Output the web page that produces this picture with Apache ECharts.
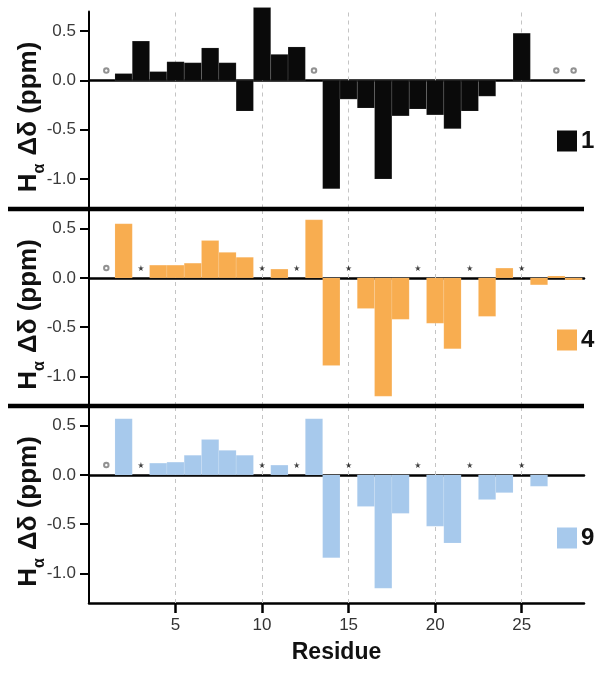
<!DOCTYPE html>
<html><head><meta charset="utf-8">
<script src="https://cdn.jsdelivr.net/npm/echarts@6/dist/echarts.min.js"></script>
<style>html,body{margin:0;padding:0;background:#fff}#c{width:604px;height:678px}</style>
</head><body><div id="c"></div>
<script>
// ---- data ----
const residues = [1,2,3,4,5,6,7,8,9,10,11,12,13,14,15,16,17,18,19,20,21,22,23,24,25,26,27,28];
const values1 = [null,0.07,0.40,0.09,0.19,0.18,0.33,0.18,-0.31,0.74,0.265,0.34,null,-1.10,-0.19,-0.28,-1.00,-0.36,-0.29,-0.35,-0.49,-0.31,-0.16,null,0.48,null,null,null];
const values4 = [null,0.55,null,0.13,0.13,0.15,0.38,0.26,0.21,null,0.09,null,0.59,-0.89,null,-0.31,-1.20,-0.42,null,-0.46,-0.72,null,-0.39,0.10,null,-0.07,0.02,-0.02];
const values9 = [null,0.57,null,0.12,0.13,0.20,0.36,0.25,0.20,null,0.10,null,0.57,-0.84,null,-0.32,-1.15,-0.39,null,-0.52,-0.69,null,-0.25,-0.18,null,-0.115,null,null];
const circles1 = [1,13,27,28];
const stars1 = [];
const circles4 = [1];
const stars4 = [3,10,12,15,19,22,25];
const circles9 = [1];
const stars9 = [3,10,12,15,19,22,25];
const markerLevel = 0.1;
const compoundNames = ['1','4','9'];
const xTicks = [5,10,15,20,25];
const yTicks = [-1.0,-0.5,0.0,0.5];
const xAxisTitle = 'Residue';
const yAxisTitle = 'H{a|α} Δδ (ppm)';

// ---- styles ----
const colors = ['#0a0a0a','#f8ad50','#a7c9ec'];
const FONT = '"Liberation Sans", Arial, Helvetica, sans-serif';
const gridTops = [11.5, 209, 406];
const gridH = 197;
const legendTops = [129, 328, 526];
const panels = [
  {vals: values1, circles: circles1, stars: stars1},
  {vals: values4, circles: circles4, stars: stars4},
  {vals: values9, circles: circles9, stars: stars9}
];
const starPath = 'path://M50,0 L61,35 L98,35 L68,57 L79,91 L50,70 L21,91 L32,57 L2,35 L39,35 Z';

const grid = [], xAxis = [], yAxis = [], series = [], legend = [];
panels.forEach((p, i) => {
  grid.push({left: 89, width: 495, top: gridTops[i], height: gridH, containLabel: false, outerBoundsMode: 'none'});
  const last = i === panels.length - 1;
  xAxis.push({
    type: 'value', gridIndex: i, min: 0, max: 28.6, interval: 5,
    position: 'bottom',
    axisLine: {show: true, onZero: !last, lineStyle: {color: '#000', width: 2.5}},
    axisTick: {show: last, length: 10, customValues: xTicks, lineStyle: {color: '#000', width: 2.5}},
    axisLabel: {show: last, customValues: xTicks, margin: 14, fontSize: 17, color: '#333', fontFamily: FONT},
    splitLine: {show: false},
    name: last ? xAxisTitle : '', nameLocation: 'middle', nameGap: 38, nameMoveOverlap: false,
    nameTextStyle: {fontSize: 23, fontWeight: 'bold', color: '#111', fontFamily: FONT}
  });
  yAxis.push({
    type: 'value', gridIndex: i, min: -1.3, max: 0.7,
    axisLine: {show: true, onZero: false, lineStyle: {color: '#000', width: 2}},
    axisTick: {show: true, length: 9, customValues: yTicks, lineStyle: {color: '#000', width: 2}},
    axisLabel: {customValues: yTicks, formatter: v => v.toFixed(1), margin: 13, fontSize: 17, color: '#3a3a3a', fontFamily: FONT},
    splitLine: {show: false},
    name: yAxisTitle, nameLocation: 'middle', nameGap: 47, nameRotate: 90, nameMoveOverlap: false,
    nameTextStyle: {fontSize: 26, fontWeight: 'bold', color: '#111', fontFamily: FONT, padding: [0, 14, 0, 0],
      rich: {a: {fontSize: 16, fontWeight: 'bold', color: '#111', fontFamily: FONT, verticalAlign: 'bottom', padding: [0, 1, -6, 0]}}}
  });
  const barData = [];
  residues.forEach((r, k) => { if (p.vals[k] !== null) barData.push([r, p.vals[k]]); });
  series.push({
    type: 'custom', name: compoundNames[i], xAxisIndex: i, yAxisIndex: i,
    itemStyle: {color: colors[i]}, encode: {x: 0, y: 1},
    renderItem: (params, api) => {
      const x = api.value(0), y = api.value(1);
      const a = api.coord([x - 0.5, 0]);
      const b = api.coord([x + 0.5, y]);
      return {type: 'rect',
        shape: {x: a[0], y: Math.min(a[1], b[1]), width: b[0] - a[0], height: Math.abs(b[1] - a[1])},
        style: {fill: api.visual('color'), stroke: 'rgba(255,255,255,0.18)', lineWidth: 0.6}};
    },
    data: barData, z: 10
  });
  series.push({
    type: 'scatter', name: 'circ' + i, xAxisIndex: i, yAxisIndex: i,
    symbol: 'emptyCircle', symbolSize: 4.5,
    itemStyle: {color: '#777', borderWidth: 1},
    data: p.circles.map(r => [r, markerLevel]), z: 11, silent: true
  });
  series.push({
    type: 'scatter', name: 'star' + i, xAxisIndex: i, yAxisIndex: i,
    symbol: starPath, symbolSize: 6,
    itemStyle: {color: '#111'},
    data: p.stars.map(r => [r, markerLevel]), z: 11, silent: true
  });
  series.push({
    type: 'scatter', name: 'grid' + i, xAxisIndex: i, yAxisIndex: i,
    data: [], z: 1, silent: true,
    markLine: {
      silent: true, symbol: 'none', label: {show: false}, z: 1,
      lineStyle: {type: [4, 4], color: '#c4c4c4', width: 1},
      emphasis: {disabled: true},
      data: xTicks.map(v => ({xAxis: v}))
    }
  });
  legend.push({
    data: [{name: compoundNames[i], icon: 'rect'}], left: 557, top: legendTops[i],
    itemWidth: 20, itemHeight: 21, selectedMode: false, padding: 0,
    textStyle: {fontSize: 24, fontWeight: 'bold', color: '#111', fontFamily: FONT, lineHeight: 21, padding: [0, 0, 0, -1]}
  });
});

// zero line for bottom panel (second x-axis on zero)
xAxis.push({
  type: 'value', gridIndex: 2, min: 0, max: 28.6, position: 'top',
  axisLine: {show: true, onZero: true, lineStyle: {color: '#000', width: 2.5}},
  axisTick: {show: false}, axisLabel: {show: false}, splitLine: {show: false}
});

const chart = echarts.init(document.getElementById('c'), null, {renderer: 'canvas'});
chart.setOption({
  backgroundColor: '#fff',
  animation: false,
  grid, xAxis, yAxis, series, legend,
  graphic: [
    {type: 'line', shape: {x1: 8, y1: 209, x2: 584, y2: 209}, style: {stroke: '#000', lineWidth: 4.5}, z: 20},
    {type: 'line', shape: {x1: 8, y1: 406, x2: 584, y2: 406}, style: {stroke: '#000', lineWidth: 4.5}, z: 20}
  ]
});
</script></body></html>
